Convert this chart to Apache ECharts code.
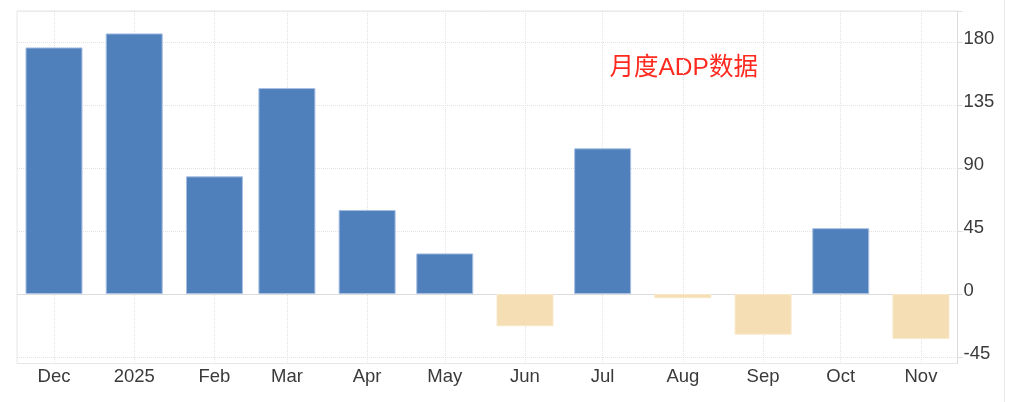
<!DOCTYPE html>
<html><head><meta charset="utf-8">
<script src="https://cdn.jsdelivr.net/npm/echarts@6/dist/echarts.min.js"></script>
<style>html,body{margin:0;padding:0;background:#fff}#c{width:1024px;height:402px}</style>
</head><body><div id="c"></div>
<script>
const months = ['2024-12-01','2025-01-01','2025-02-01','2025-03-01','2025-04-01','2025-05-01','2025-06-01','2025-07-01','2025-08-01','2025-09-01','2025-10-01','2025-11-01'];
const tickLabels = ['Dec','2025','Feb','Mar','Apr','May','Jun','Jul','Aug','Sep','Oct','Nov'];
const values = [176, 186, 84, 147, 60, 29, -23, 104, -3, -29, 47, -32];
const yTicks = [-45, 0, 45, 90, 135, 180];
const annotation = '月度ADP数据';

const monthTs = months.map(m => Date.parse(m + 'T00:00:00Z'));
const posColor = '#4f80bb', negColor = '#f5deb3';
const barData = monthTs.map((t, i) => ({
  value: [t, values[i]],
  itemStyle: {
    color: values[i] >= 0 ? posColor : negColor,
    borderColor: values[i] >= 0 ? '#a7c0e3' : '#f8e8c8',
    borderWidth: 1
  }
}));

const labelFont = {fontSize: 18.5, fontFamily: 'Liberation Sans, Arial, sans-serif', color: '#3a3a3a'};

const chart = echarts.init(document.getElementById('c'), null, {renderer: 'canvas'});
chart.setOption({
  animation: false,
  backgroundColor: '#fff',
  grid: {left: 17, right: 66.5, top: 11, bottom: 38.5, show: true, borderColor: '#e6e6e6', borderWidth: 1, backgroundColor: 'transparent'},
  xAxis: {
    type: 'value',
    min: Date.parse('2024-11-16T17:00:00Z'),
    max: Date.parse('2025-11-15T03:00:00Z'),
    axisLine: {show: true, lineStyle: {color: '#dcdcdc', width: 1}},
    axisTick: {show: false, customValues: monthTs},
    axisLabel: Object.assign({
      customValues: monthTs,
      margin: 4,
      showMinLabel: true, showMaxLabel: true,
      formatter: v => { const i = monthTs.indexOf(v); return i >= 0 ? tickLabels[i] : ''; }
    }, labelFont),
    splitLine: {show: true, lineStyle: {color: '#e3e3e3', type: 'dotted', width: 1}}
  },
  yAxis: {
    type: 'value',
    position: 'right',
    min: -49.6,
    max: 202,
    axisLine: {show: true, lineStyle: {color: '#dcdcdc', width: 1}},
    axisTick: {show: true, length: 5, customValues: yTicks.concat([202]), lineStyle: {color: '#dcdcdc'}},
    axisLabel: Object.assign({
      customValues: yTicks,
      margin: 6,
      verticalAlign: 'middle',
      formatter: v => '{a|' + v + '}',
      rich: {a: Object.assign({padding: [0, 0, 6, 0]}, labelFont)}
    }, labelFont),
    splitLine: {show: true, lineStyle: {color: '#e3e3e3', type: 'dotted', width: 1}}
  },
  series: [{
    type: 'bar',
    data: barData,
    barWidth: 57
  }],
  graphic: [
    {type: 'text', x: 609.5, y: 68.5,
     style: {text: annotation, fill: '#ff2a1f', font: '24.5px "Liberation Sans", "Noto Sans CJK SC", sans-serif', verticalAlign: 'middle', align: 'left'}},
    {type: 'line', shape: {x1: 1004.5, y1: 0, x2: 1004.5, y2: 402}, style: {stroke: '#e8e8e8', lineWidth: 1}}
  ]
});
</script>
</body></html>
